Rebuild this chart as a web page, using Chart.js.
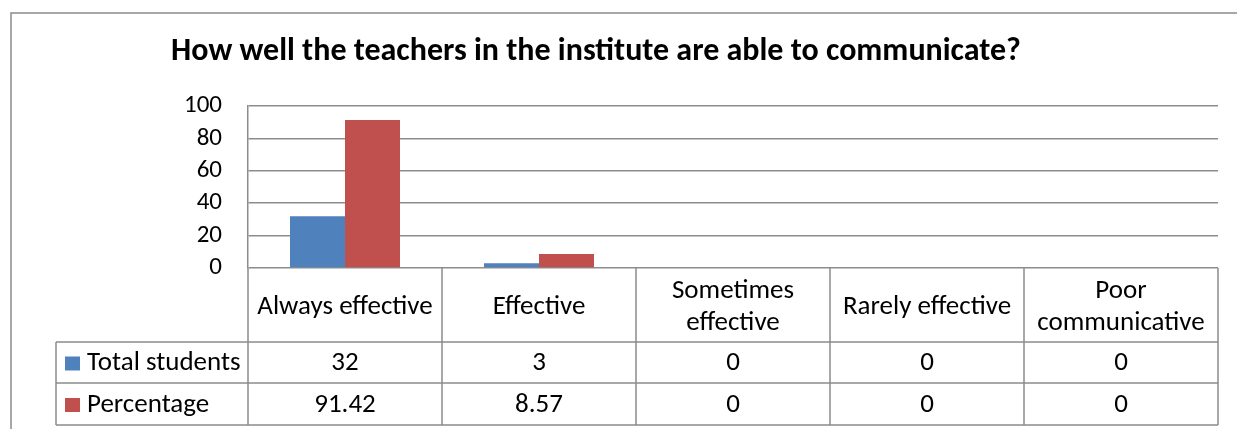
<!DOCTYPE html>
<html>
<head>
<meta charset="utf-8">
<script src="https://cdn.jsdelivr.net/npm/chart.js@4.4.1/dist/chart.umd.min.js"></script>
<style>
  html, body { margin: 0; padding: 0; background: #fff; }
  canvas { display: block; }
</style>
</head>
<body>
<canvas id="myChart" width="1237" height="429"></canvas>
<script>
const chartTitle = 'How well the teachers in the institute are able to communicate?';
const categories = ['Always effective', 'Effective', ['Sometimes', 'effective'], 'Rarely effective', ['Poor', 'communicative']];
const seriesNames = ['Total students', 'Percentage'];
const totalStudents = [32, 3, 0, 0, 0];
const percentage = [91.42, 8.57, 0, 0, 0];
const yMax = 100;
const yStep = 20;

const FONT = 'Carlito, Lato, "Open Sans", sans-serif';
const colors = ['#4F81BD', '#C0504D'];
const lineGray = '#8c8c8c';

// frame, title and the data table underneath (Excel style)
const excelBits = {
    id: 'excelBits',
    beforeDraw(chart) {
        const ctx = chart.ctx;
        ctx.save();
        ctx.fillStyle = '#fff';
        ctx.fillRect(0, 0, chart.width, chart.height);
        ctx.strokeStyle = '#8a8a8a';
        ctx.lineWidth = 1.5;
        ctx.strokeRect(11, 13, chart.width + 20, chart.height + 20);
        ctx.restore();
    },
    afterDraw(chart) {
        const ctx = chart.ctx;
        const x = chart.scales.x;
        const area = chart.chartArea;
        const colW = x.getPixelForValue(1) - x.getPixelForValue(0);
        const edges = categories.map((c, i) => x.getPixelForValue(i) - colW / 2);
        edges.push(edges[edges.length - 1] + colW);

        const headBottom = area.bottom + 74;
        const row1Bottom = headBottom + 41;
        const row2Bottom = row1Bottom + 42;
        const legendLeft = 56;

        ctx.save();
        // title
        ctx.fillStyle = '#000';
        ctx.font = 'bold 32px ' + FONT;
        ctx.textAlign = 'center';
        ctx.textBaseline = 'middle';
        ctx.fillText(chartTitle, 596, 52);

        // table lines
        ctx.strokeStyle = lineGray;
        ctx.lineWidth = 1.5;
        ctx.beginPath();
        edges.forEach(ex => {
            ctx.moveTo(ex, area.bottom);
            ctx.lineTo(ex, row2Bottom);
        });
        [headBottom, row1Bottom, row2Bottom].forEach(ry => {
            ctx.moveTo(legendLeft, ry);
            ctx.lineTo(edges[edges.length - 1], ry);
        });
        ctx.moveTo(legendLeft, headBottom);
        ctx.lineTo(legendLeft, row2Bottom);
        ctx.stroke();

        // header labels
        ctx.font = '27px ' + FONT;
        ctx.fillStyle = '#000';
        categories.forEach((c, i) => {
            const cx = (edges[i] + edges[i + 1]) / 2;
            const lines = Array.isArray(c) ? c : [c];
            const lh = 32;
            const cy = (area.bottom + headBottom) / 2 + 2;
            lines.forEach((ln, j) => {
                ctx.fillText(ln, cx, cy + (j - (lines.length - 1) / 2) * lh);
            });
        });

        // rows
        const rows = [totalStudents, percentage];
        const rowTops = [headBottom, row1Bottom];
        const rowBots = [row1Bottom, row2Bottom];
        rows.forEach((vals, r) => {
            const cy = (rowTops[r] + rowBots[r]) / 2 + 1;
            ctx.fillStyle = colors[r];
            ctx.fillRect(legendLeft + 9, cy - 7, 15, 14);
            ctx.fillStyle = '#000';
            ctx.textAlign = 'left';
            ctx.fillText(seriesNames[r], legendLeft + 31, cy);
            ctx.textAlign = 'center';
            vals.forEach((v, i) => {
                ctx.fillText(String(v), (edges[i] + edges[i + 1]) / 2, cy);
            });
        });
        ctx.restore();
    }
};

const ctx = document.getElementById('myChart').getContext('2d');
new Chart(ctx, {
    type: 'bar',
    data: {
        labels: categories,
        datasets: [{
            label: seriesNames[0],
            data: totalStudents,
            backgroundColor: colors[0],
            borderWidth: 0
        }, {
            label: seriesNames[1],
            data: percentage,
            backgroundColor: colors[1],
            borderWidth: 0
        }]
    },
    options: {
        responsive: false,
        animation: false,
        layout: { padding: { top: 106, right: 19, bottom: 161, left: 0 } },
        datasets: { bar: { categoryPercentage: 0.567, barPercentage: 1 } },
        plugins: {
            legend: { display: false },
            title: { display: false },
            tooltip: { enabled: false }
        },
        scales: {
            x: { display: false },
            y: {
                min: 0,
                max: yMax,
                ticks: {
                    stepSize: yStep,
                    autoSkip: false,
                    color: '#000',
                    padding: 26,
                    font: { family: FONT, size: 25, lineHeight: 1 }
                },
                grid: { color: lineGray, lineWidth: 1.5, drawTicks: false },
                border: { display: true, color: lineGray, width: 1.5 },
                afterFit(scale) { scale.width = 248; }
            }
        }
    },
    plugins: [excelBits]
});
</script>
</body>
</html>
